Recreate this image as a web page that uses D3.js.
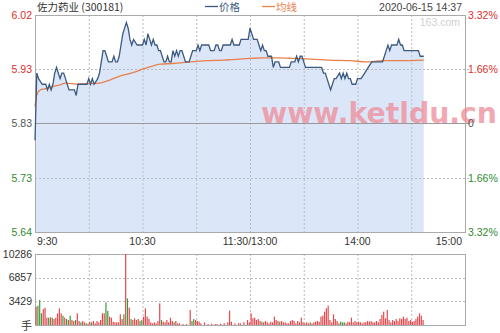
<!DOCTYPE html>
<html>
<head>
<meta charset="utf-8">
<script src="https://cdn.jsdelivr.net/npm/d3@7"></script>
<style>
  body { margin: 0; background: #fff; }
  svg { display: block; }
</style>
</head>
<body>
<svg width="500" height="333"></svg>
<script>
// ---- data ----
const stockName = "佐力药业 (300181)";
const stamp = "2020-06-15 14:37";
const prevClose = 5.83;
const pctRange = 0.0332;
const priceTicks = ["6.02", "5.93", "5.83", "5.73", "5.64"];
const pctTicks = ["3.32%", "1.66%", "0", "1.66%", "3.32%"];
const timeLabels = ["9:30", "10:30", "11:30/13:00", "14:00", "15:00"];
const timeMinutes = [0, 60, 120, 180, 240];
const volTicks = [10286, 6857, 3429];

// price: trading minute since 9:30 (lunch removed) and price
const priceMin = [0, 1, 2, 4, 5, 6, 7, 8, 9, 10, 11, 12, 13, 14, 15, 16, 17, 18, 19, 20, 22, 23, 24, 29, 30, 31, 32, 33, 35, 36,
  37, 38, 39, 40, 41, 43, 44, 45, 46, 47, 48, 49, 51, 52, 53, 54, 55, 57, 58, 59, 60, 61, 62, 63, 64, 65, 66, 67, 68, 69,
  70, 71, 72, 73, 74, 75, 76, 77, 78, 79, 80, 81, 82, 83, 84, 85, 86, 87, 88, 89, 90, 91, 92, 93, 94, 97, 98, 99, 100, 101,
  102, 103, 104, 105, 109, 110, 111, 114, 115, 119, 120, 121, 122, 123, 124, 125, 126, 127, 128, 129, 130, 131, 132, 133, 134, 136, 137, 142, 143, 145,
  146, 147, 148, 149, 150, 151, 159, 160, 161, 162, 163, 164, 165, 166, 167, 168, 170, 171, 172, 173, 174, 175, 176, 177, 179, 180,
  182, 184, 186, 188, 194, 195, 196, 197, 198, 199, 200, 201, 202, 203, 204, 205, 206, 214, 215, 217];
const priceVal = [5.80, 5.92, 5.91, 5.90, 5.90, 5.90, 5.89, 5.90, 5.89, 5.90, 5.92, 5.93, 5.92, 5.91, 5.92, 5.92, 5.91, 5.90, 5.89, 5.89, 5.89, 5.88, 5.90, 5.90, 5.91, 5.90, 5.91, 5.90, 5.91, 5.92,
  5.94, 5.96, 5.96, 5.95, 5.94, 5.94, 5.95, 5.94, 5.94, 5.95, 5.97, 5.99, 6.01, 6.00, 5.98, 5.97, 5.98, 5.97, 5.97, 5.97, 5.97, 5.98, 5.97, 5.99, 5.98, 5.97, 5.98, 5.97, 5.97, 5.96,
  5.96, 5.95, 5.94, 5.94, 5.95, 5.94, 5.94, 5.96, 5.95, 5.96, 5.95, 5.96, 5.96, 5.95, 5.94, 5.94, 5.94, 5.95, 5.96, 5.96, 5.96, 5.97, 5.96, 5.97, 5.97, 5.97, 5.96, 5.96, 5.96, 5.97,
  5.97, 5.96, 5.96, 5.97, 5.97, 5.98, 5.97, 5.97, 5.98, 5.98, 6.00, 5.99, 5.98, 5.98, 5.98, 5.97, 5.96, 5.97, 5.96, 5.96, 5.95, 5.95, 5.95, 5.93, 5.94, 5.94, 5.93, 5.93, 5.94, 5.94,
  5.95, 5.94, 5.95, 5.95, 5.94, 5.93, 5.93, 5.93, 5.92, 5.92, 5.91, 5.90, 5.89, 5.90, 5.91, 5.91, 5.92, 5.91, 5.92, 5.91, 5.92, 5.91, 5.91, 5.90, 5.90, 5.91,
  5.91, 5.92, 5.93, 5.94, 5.94, 5.95, 5.96, 5.97, 5.96, 5.97, 5.97, 5.97, 5.97, 5.98, 5.97, 5.97, 5.96, 5.96, 5.95, 5.95];

// average price line
const avgMin = [0, 1, 3, 6, 10, 14, 17, 24, 30, 36, 42, 47, 55, 60, 64, 70, 77, 87, 96, 105, 114, 120, 127, 136, 145, 154, 164, 176, 185, 194, 204, 217];
const avgVal = [5.86, 5.881, 5.890, 5.892, 5.896, 5.899, 5.902, 5.900, 5.901, 5.902, 5.908, 5.914, 5.921, 5.927, 5.931, 5.936, 5.937, 5.940, 5.942, 5.943,
  5.945, 5.946, 5.947, 5.947, 5.946, 5.945, 5.943, 5.942, 5.940, 5.942, 5.942, 5.943];

// volume (手): minute, amount, direction (u = up/red, d = down/green)
const volMin = [0, 1, 2, 3, 4, 5, 6, 7, 8, 9, 10, 11, 12, 13, 14, 15, 16, 17, 18, 19, 20, 21, 22, 23, 24, 25, 26, 27, 28, 29,
  30, 31, 32, 33, 34, 35, 36, 37, 38, 39, 40, 41, 42, 43, 44, 45, 46, 47, 48, 49, 50, 51, 52, 53, 54, 55, 56, 57, 58, 59,
  60, 61, 62, 63, 64, 65, 66, 67, 68, 69, 70, 71, 72, 73, 74, 75, 76, 77, 78, 79, 80, 82, 84, 86, 87, 88, 89, 90, 91, 92,
  94, 96, 98, 100, 101, 103, 105, 107, 108, 109, 111, 113, 114, 116, 118, 119,
  120, 121, 122, 123, 124, 125, 126, 127, 128, 129, 130, 131, 132, 133, 134, 135, 136, 137, 138, 139, 140, 141, 142, 143, 144, 145, 146, 147, 148, 149,
  150, 151, 152, 153, 154, 155, 156, 157, 158, 159, 160, 161, 162, 163, 164, 165, 166, 167, 168, 169, 170, 171, 172, 173, 174, 175, 176, 177, 178, 179,
  180, 181, 182, 183, 184, 185, 186, 187, 188, 189, 190, 191, 192, 193, 194, 195, 196, 197, 198, 199, 200, 201, 202, 203, 204, 205, 206, 207, 208, 209,
  210, 211, 212, 213, 214, 215, 216];
const volVal = [2650, 2800, 3620, 1690, 2320, 2510, 1060, 1060, 1100, 1060, 870, 1060, 1690, 2410, 1690, 1350, 1060, 870, 720, 1350, 720, 580, 720, 1690, 580, 390, 580, 390, 240, 190,
  480, 390, 580, 240, 580, 390, 720, 1690, 1690, 3280, 2030, 1210, 1060, 480, 390, 390, 390, 1550, 870, 1550, 10286, 3860, 2510, 870, 720, 970, 720, 870, 580, 720,
  1210, 2410, 1210, 870, 390, 240, 390, 240, 580, 3140, 720, 480, 390, 720, 390, 1060, 580, 390, 580, 240, 240, 140, 140, 2170, 580, 870, 720, 580, 480, 240,
  390, 140, 190, 140, 140, 190, 240, 390, 2080, 480, 240, 240, 240, 390, 720, 390,
  1690, 970, 1060, 720, 870, 580, 480, 390, 580, 390, 240, 480, 390, 1210, 720, 580, 480, 580, 390, 390, 240, 240, 580, 720, 580, 240, 580, 390, 1060, 390,
  240, 390, 240, 390, 240, 390, 480, 580, 480, 1210, 1350, 1930, 2410, 2800, 720, 390, 1550, 870, 580, 240, 480, 390, 390, 240, 480, 390, 1060, 390, 580, 390,
  480, 390, 240, 390, 390, 580, 480, 580, 390, 390, 580, 390, 870, 1450, 1930, 970, 2170, 720, 390, 720, 580, 870, 580, 970, 870, 1210, 870, 1060, 580, 720,
  480, 580, 870, 1210, 1690, 1350, 720];
const volDir = "udddu" + "uududuuuuu" + "dudud" + "uudu" + "udu" + "uduudu" + "uuuuuuddu" + "uuuuuuudud" + "uduuuuddu" +
  "uuuuuuuuuduuuuuuduuuuuudduuuuuuuuuuuu" + "uuuuuuuuuuuu" +
  "uudu" + "uuuuuuuuduuuuuuuuuuuuuuuuduuuuuuuuuuuuuuuudddu" + "uuuuuuuuuuuuuuuuuuuuuuuuuuuuuuuuuuuuuuuuuuuuuuuuuuuuuuuu";

// ---- drawing ----
const svg = d3.select("svg");
const numFont = "'Liberation Sans', Arial, sans-serif";
const cjkFont = "'Noto Sans CJK SC', sans-serif";
const red = "#d9302c", green = "#2f8a2f", grey = "#555";

const left = 35, right = 465;
const x = d3.scaleLinear().domain([0, 240]).range([left, right]);
const y = d3.scaleLinear()
  .domain([prevClose * (1 - pctRange), prevClose * (1 + pctRange)])
  .range([232, 15]);
const yv = d3.scaleLinear().domain([0, volTicks[0]]).range([325, 254]);

const priceData = priceMin.map((m, i) => ({ m, v: priceVal[i] }));
const avgData = avgMin.map((m, i) => ({ m, v: avgVal[i] }));
const levels = [1, 0.5, 0, -0.5, -1].map(k => prevClose * (1 + pctRange * k));

// area under price
svg.append("path")
  .datum(priceData)
  .attr("fill", "#dbe7f9")
  .attr("d", d3.area().x(d => x(d.m)).y0(y.range()[0]).y1(d => y(d.v)));

// grid (main)
const grid = svg.append("g").attr("stroke", "#bbb").attr("stroke-dasharray", "2,2");
[30, 60, 90, 120, 150, 180, 210].forEach(m => {
  grid.append("line").attr("x1", x(m) + 0.5).attr("x2", x(m) + 0.5).attr("y1", 15).attr("y2", 232);
  grid.append("line").attr("x1", x(m) + 0.5).attr("x2", x(m) + 0.5).attr("y1", 254).attr("y2", 325);
});
[levels[1], levels[3]].forEach(v => {
  grid.append("line").attr("x1", left).attr("x2", right + 5).attr("y1", Math.round(y(v)) + 0.5).attr("y2", Math.round(y(v)) + 0.5);
});
volTicks.slice(1).forEach(v => {
  grid.append("line").attr("x1", left).attr("x2", right).attr("y1", Math.round(yv(v)) + 0.5).attr("y2", Math.round(yv(v)) + 0.5);
});

// prev close line
svg.append("line")
  .attr("x1", left).attr("x2", right + 5)
  .attr("y1", Math.round(y(prevClose)) + 0.5).attr("y2", Math.round(y(prevClose)) + 0.5)
  .attr("stroke", "#999");

// frames
svg.append("rect").attr("x", left + 0.5).attr("y", 15.5).attr("width", right - left).attr("height", 217)
  .attr("fill", "none").attr("stroke", "#aaa");
svg.append("rect").attr("x", left + 0.5).attr("y", 254.5).attr("width", right - left).attr("height", 71)
  .attr("fill", "none").attr("stroke", "#aaa");

// watermark
svg.append("text")
  .attr("x", 261).attr("y", 123)
  .attr("font-family", "'DejaVu Sans', sans-serif").attr("font-weight", "bold")
  .attr("font-size", 29).attr("fill", "#f08c98").attr("opacity", 0.75)
  .attr("textLength", 236).attr("lengthAdjust", "spacingAndGlyphs")
  .text("www.ketldu.cn");

// avg + price lines
svg.append("path")
  .datum(avgData)
  .attr("fill", "none").attr("stroke", "#e8804c").attr("stroke-width", 1.3)
  .attr("d", d3.line().x(d => x(d.m)).y(d => y(d.v)).curve(d3.curveMonotoneX));
svg.append("path")
  .datum(priceData)
  .attr("fill", "none").attr("stroke", "#3c5a80").attr("stroke-width", 1.3)
  .attr("d", d3.line().x(d => x(d.m)).y(d => y(d.v)));

// volume bars
svg.append("g").selectAll("rect")
  .data(volMin.map((m, i) => ({ m, v: volVal[i], dir: volDir[i] || "u" })))
  .join("rect")
  .attr("x", d => x(d.m) + 0.5)
  .attr("y", d => yv(d.v))
  .attr("width", 1.2)
  .attr("height", d => yv(0) - yv(d.v))
  .attr("fill", d => d.dir === "d" ? "#3d9a3a" : "#e5484d");

// left price labels
const leftColors = [red, red, grey, green, green];
svg.append("g").selectAll("text")
  .data(priceTicks)
  .join("text")
  .attr("x", 32).attr("y", (d, i) => y(levels[i]))
  .attr("dy", "0.36em").attr("text-anchor", "end")
  .attr("font-family", numFont).attr("font-size", 10.5)
  .attr("fill", (d, i) => leftColors[i])
  .text(d => d);

// right percent labels
svg.append("g").selectAll("text")
  .data(pctTicks)
  .join("text")
  .attr("x", 468).attr("y", (d, i) => y(levels[i]))
  .attr("dy", "0.36em")
  .attr("font-family", numFont).attr("font-size", 10.5)
  .attr("fill", (d, i) => leftColors[i])
  .text(d => d);

// time labels
svg.append("g").selectAll("text")
  .data(timeLabels)
  .join("text")
  .attr("x", (d, i) => i === 0 ? x(timeMinutes[i]) + 2 : i === 4 ? x(timeMinutes[i]) - 3 : x(timeMinutes[i]))
  .attr("y", 245)
  .attr("text-anchor", (d, i) => i === 0 ? "start" : i === 4 ? "end" : "middle")
  .attr("font-family", numFont).attr("font-size", 10.5).attr("fill", "#333")
  .text(d => d);

// volume labels
svg.append("g").selectAll("text")
  .data(volTicks)
  .join("text")
  .attr("x", 32).attr("y", d => yv(d))
  .attr("dy", "0.36em").attr("text-anchor", "end")
  .attr("font-family", numFont).attr("font-size", 10.5).attr("fill", "#333")
  .text(d => d);
svg.append("text")
  .attr("x", 32).attr("y", 326).attr("dy", "0.36em").attr("text-anchor", "end")
  .attr("font-family", cjkFont).attr("font-size", 11).attr("fill", "#333")
  .text("手");

// header
svg.append("text")
  .attr("x", 37).attr("y", 7).attr("dy", "0.36em")
  .attr("font-family", cjkFont).attr("font-size", 10.5).attr("fill", "#333")
  .text(stockName);

const legend = [
  { name: "价格", color: "#3c5a80", x: 205 },
  { name: "均线", color: "#e8804c", x: 262 }
];
legend.forEach(l => {
  svg.append("line").attr("x1", l.x).attr("x2", l.x + 13).attr("y1", 6.5).attr("y2", 6.5)
    .attr("stroke", l.color).attr("stroke-width", 1.3);
  svg.append("text").attr("x", l.x + 14).attr("y", 7).attr("dy", "0.36em")
    .attr("font-family", cjkFont).attr("font-size", 10.5).attr("fill", l.color)
    .text(l.name);
});

svg.append("text")
  .attr("x", 462).attr("y", 7).attr("dy", "0.36em").attr("text-anchor", "end")
  .attr("font-family", numFont).attr("font-size", 10.5).attr("fill", "#444")
  .text(stamp);

svg.append("text")
  .attr("x", 460).attr("y", 22).attr("dy", "0.36em").attr("text-anchor", "end")
  .attr("font-family", numFont).attr("font-size", 10.5).attr("fill", "#d0d0d0")
  .text("163.com");
</script>
</body>
</html>
